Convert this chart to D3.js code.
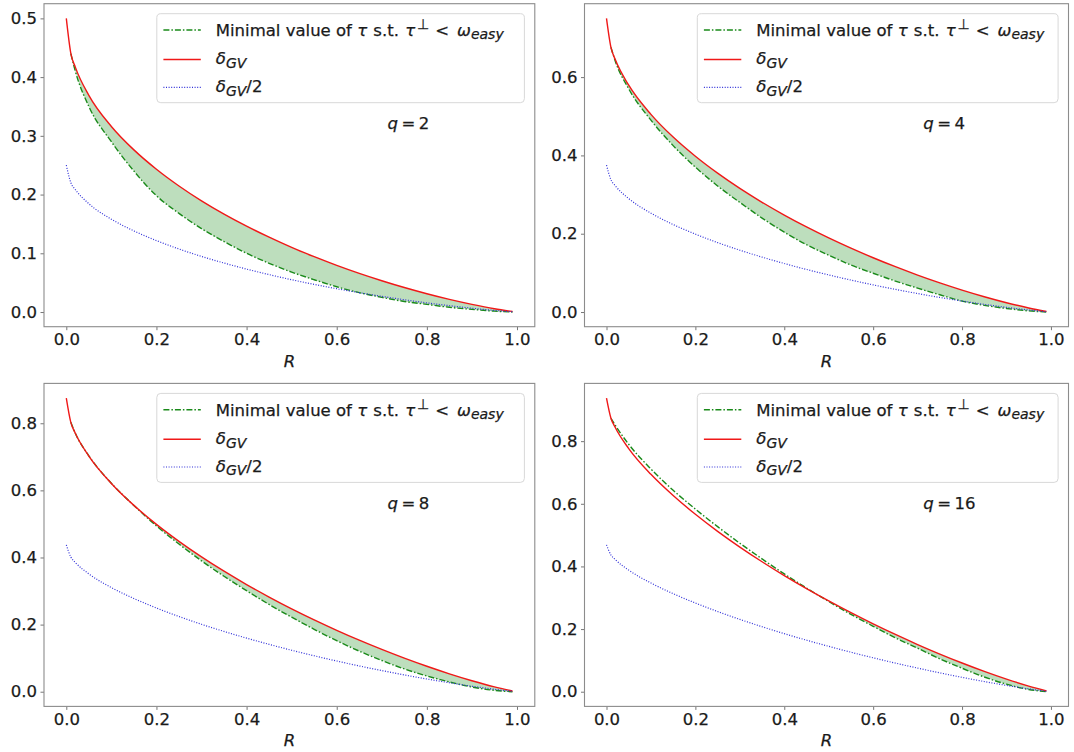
<!DOCTYPE html>
<html>
<head>
<meta charset="utf-8">
<script src="https://cdn.jsdelivr.net/npm/d3@7"></script>
<style>
  body { margin: 0; background: #fff; }
  text { font-family: 'DejaVu Sans', sans-serif; }
</style>
</head>
<body>
<script>
// code rate R (shared x values)
var rates = [0, 0.01, 0.02, 0.05, 0.1, 0.15, 0.2, 0.25, 0.3, 0.35, 0.4, 0.45, 0.5, 0.55, 0.6, 0.65, 0.7, 0.75, 0.8, 0.85, 0.9, 0.95, 0.99]

// delta_GV for q = 2, 4, 8, 16
var gv2 = [0.5, 0.4405, 0.417, 0.3689, 0.316, 0.2761, 0.2431, 0.2146, 0.1893, 0.1667, 0.1462, 0.1274, 0.1100, 0.0942, 0.0794, 0.0658, 0.0533, 0.0417, 0.0311, 0.0215, 0.0130, 0.0056, 0.0009]
var gv4 = [0.75, 0.6758, 0.6441, 0.5793, 0.5049, 0.4468, 0.3978, 0.3546, 0.3157, 0.2803, 0.2477, 0.2174, 0.1893, 0.1631, 0.1386, 0.1157, 0.0943, 0.0744, 0.0560, 0.0391, 0.0238, 0.0104, 0.0016]
var gv8 = [0.875, 0.8028, 0.7701, 0.7023, 0.6207, 0.5553, 0.4987, 0.4481, 0.4018, 0.3591, 0.3193, 0.2821, 0.2470, 0.2141, 0.1830, 0.1536, 0.1260, 0.1000, 0.0758, 0.0533, 0.0328, 0.0145, 0.0023]
var gv16 = [0.9375, 0.8732, 0.8427, 0.7764, 0.6941, 0.6262, 0.5664, 0.5120, 0.4618, 0.4149, 0.3708, 0.3292, 0.2897, 0.2522, 0.2166, 0.1828, 0.1507, 0.1203, 0.0917, 0.0649, 0.0402, 0.0180, 0.0029]

// delta_GV / 2
var half2 = [0.25, 0.2203, 0.2085, 0.1845, 0.158, 0.1381, 0.1216, 0.1073, 0.0947, 0.0834, 0.0731, 0.0637, 0.055, 0.0471, 0.0397, 0.0329, 0.0267, 0.0209, 0.0156, 0.0108, 0.0065, 0.0028, 0.0004]
var half4 = [0.375, 0.3379, 0.3221, 0.2897, 0.2525, 0.2234, 0.1989, 0.1773, 0.1579, 0.1402, 0.1239, 0.1087, 0.0947, 0.0816, 0.0693, 0.0579, 0.0472, 0.0372, 0.0280, 0.0196, 0.0119, 0.0052, 0.0008]
var half8 = [0.4375, 0.4014, 0.3851, 0.3512, 0.3104, 0.2777, 0.2494, 0.2241, 0.2009, 0.1796, 0.1597, 0.1411, 0.1235, 0.1071, 0.0915, 0.0768, 0.0630, 0.0500, 0.0379, 0.0267, 0.0164, 0.0073, 0.0012]
var half16 = [0.4688, 0.4366, 0.4214, 0.3882, 0.3471, 0.3131, 0.2832, 0.2560, 0.2309, 0.2075, 0.1854, 0.1646, 0.1449, 0.1261, 0.1083, 0.0914, 0.0754, 0.0602, 0.0459, 0.0325, 0.0201, 0.0090, 0.0015]

// minimal tau s.t. tau-perp < omega_easy (no value at R = 0)
var tau2 = [null, 0.440, 0.410, 0.350, 0.290, 0.240, 0.198, 0.168, 0.142, 0.120, 0.100, 0.083, 0.068, 0.055, 0.043, 0.033, 0.025, 0.018, 0.013, 0.008, 0.0045, 0.0015, 0.0]
var tau4 = [null, 0.676, 0.640, 0.570, 0.490, 0.425, 0.370, 0.322, 0.280, 0.240, 0.204, 0.172, 0.145, 0.120, 0.099, 0.079, 0.061, 0.044, 0.028, 0.017, 0.009, 0.003, 0.0]
var tau8 = [null, 0.803, 0.770, 0.703, 0.621, 0.555, 0.494, 0.440, 0.390, 0.344, 0.301, 0.260, 0.222, 0.186, 0.152, 0.121, 0.093, 0.068, 0.047, 0.029, 0.014, 0.004, 0.0]
var tau16 = [null, 0.873, 0.850, 0.790, 0.711, 0.643, 0.583, 0.527, 0.474, 0.424, 0.376, 0.331, 0.288, 0.247, 0.209, 0.172, 0.139, 0.105, 0.075, 0.047, 0.024, 0.007, 0.0]

var xTicks = [0, 0.2, 0.4, 0.6, 0.8, 1.0]
var yTicks2 = [0, 0.1, 0.2, 0.3, 0.4, 0.5]
var yTicks4 = [0, 0.2, 0.4, 0.6]
var yTicks8 = [0, 0.2, 0.4, 0.6, 0.8]
var yTicks16 = [0, 0.2, 0.4, 0.6, 0.8]
var qLabels = ['2', '4', '8', '16']

var W = 1074
var H = 752
var ph = 323
var fontSize = 16.5
var subSize = 14
var ink = '#1a1a1a'

var svg = d3.select('body')
            .append('svg')
            .attr('width', W)
            .attr('height', H)

svg.append('rect').attr('width', W).attr('height', H).attr('fill', '#fff')

var panels = [
  {q: qLabels[0], gv: gv2, half: half2, tau: tau2, yticks: yTicks2, left: 44, top: 3.7, pw: 490.8},
  {q: qLabels[1], gv: gv4, half: half4, tau: tau4, yticks: yTicks4, left: 584.5, top: 3.7, pw: 484},
  {q: qLabels[2], gv: gv8, half: half8, tau: tau8, yticks: yTicks8, left: 44, top: 383.4, pw: 490.8},
  {q: qLabels[3], gv: gv16, half: half16, tau: tau16, yticks: yTicks16, left: 584.5, top: 383.4, pw: 484}
]

function drawPanel (p) {
  var pw = p.pw
  var g = svg.append('g')
             .attr('transform', 'translate(' + p.left + ',' + p.top + ')')

  var xMax = d3.max(rates)
  var yMax = d3.max(p.gv)
  var x = d3.scaleLinear().domain([-0.05 * xMax, 1.05 * xMax]).range([0, pw])
  var y = d3.scaleLinear().domain([-0.05 * yMax, 1.05 * yMax]).range([ph, 0])

  var idx = d3.range(rates.length)

  // shaded band where delta_GV is above tau
  var area = d3.area()
               .defined(function (i) { return p.tau[i] != null })
               .x(function (i) { return x(rates[i]) })
               .y0(function (i) { return y(p.tau[i]) })
               .y1(function (i) { return y(Math.max(p.gv[i], p.tau[i])) })
               .curve(d3.curveMonotoneX)

  g.append('path')
    .attr('d', area(idx))
    .attr('fill', 'rgb(0,128,0)')
    .attr('fill-opacity', 0.26)

  var line = function (vals) {
    return d3.line()
             .defined(function (i) { return vals[i] != null })
             .x(function (i) { return x(rates[i]) })
             .y(function (i) { return y(vals[i]) })
             .curve(d3.curveMonotoneX)(idx)
  }

  g.append('path')
    .attr('d', line(p.tau))
    .attr('fill', 'none')
    .attr('stroke', '#1a8a1a')
    .attr('stroke-width', 1.4)
    .attr('stroke-dasharray', '6,2,1.5,2')

  g.append('path')
    .attr('d', line(p.gv))
    .attr('fill', 'none')
    .attr('stroke', '#f01818')
    .attr('stroke-width', 1.4)

  g.append('path')
    .attr('d', line(p.half))
    .attr('fill', 'none')
    .attr('stroke', '#3030d8')
    .attr('stroke-width', 1.2)
    .attr('stroke-dasharray', '1,1.6')

  // axes
  var xAxis = d3.axisBottom(x)
                .tickValues(xTicks)
                .tickSize(3.5)
                .tickPadding(3.5)
                .tickFormat(d3.format('.1f'))
  var yAxis = d3.axisLeft(y)
                .tickValues(p.yticks)
                .tickSize(3.5)
                .tickPadding(3.5)
                .tickFormat(d3.format('.1f'))

  var xa = g.append('g')
    .classed('x axis', true)
    .attr('transform', 'translate(0,' + ph + ')')
    .call(xAxis)
  var ya = g.append('g')
    .classed('y axis', true)
    .call(yAxis)

  ;[xa, ya].forEach(function (a) {
    a.select('.domain').remove()
    a.selectAll('line').attr('stroke', '#666').attr('stroke-width', 0.9)
    a.selectAll('text')
      .attr('fill', ink)
      .attr('stroke', ink)
      .attr('stroke-width', 0.25)
      .style('font-size', fontSize + 'px')
      .style('font-family', "'DejaVu Sans', sans-serif")
  })

  g.append('rect')
    .attr('width', pw)
    .attr('height', ph)
    .attr('fill', 'none')
    .attr('stroke', '#8c8c8c')
    .attr('stroke-width', 1.1)

  // x label
  g.append('text')
    .attr('x', pw / 2)
    .attr('y', ph + 40)
    .attr('text-anchor', 'middle')
    .attr('font-style', 'italic')
    .attr('fill', ink)
    .attr('stroke', ink)
    .attr('stroke-width', 0.25)
    .style('font-size', fontSize + 'px')
    .text('R')

  // q annotation
  var qt = g.append('text')
    .attr('x', 0.7 * pw)
    .attr('y', 125.5)
    .attr('fill', ink)
    .attr('stroke', ink)
    .attr('stroke-width', 0.25)
    .style('font-size', fontSize + 'px')
  qt.append('tspan').attr('font-style', 'italic').text('q')
  qt.append('tspan').attr('dx', 3.5).text('=')
  qt.append('tspan').attr('dx', 3.5).text(p.q)

  // legend
  var lx = 112.8
  var ly = 10
  var lw = pw - 10.4 - lx
  var lg = g.append('g').attr('transform', 'translate(' + lx + ',' + ly + ')')
  lg.append('rect')
    .attr('width', lw)
    .attr('height', 89)
    .attr('rx', 4)
    .attr('fill', '#fff')
    .attr('fill-opacity', 0.8)
    .attr('stroke', '#d8d8d8')
    .attr('stroke-width', 1)

  var rows = [
    {y: 16.3, stroke: '#1a8a1a', dash: '6,2,1.5,2', w: 1.4},
    {y: 45.8, stroke: '#f01818', dash: null, w: 1.4},
    {y: 73.6, stroke: '#3030d8', dash: '1,1.6', w: 1.2}
  ]
  rows.forEach(function (r) {
    lg.append('line')
      .attr('x1', 6.6).attr('x2', 44)
      .attr('y1', r.y).attr('y2', r.y)
      .attr('stroke', r.stroke)
      .attr('stroke-width', r.w)
      .attr('stroke-dasharray', r.dash)
  })

  var tx = 59
  function legendText (yy) {
    return lg.append('text')
      .attr('x', tx).attr('y', yy)
      .attr('fill', ink)
      .attr('stroke', ink)
      .attr('stroke-width', 0.25)
      .style('font-size', fontSize + 'px')
  }

  var t1 = legendText(rows[0].y + 6)
  t1.append('tspan').text('Minimal value of ')
  t1.append('tspan').attr('font-style', 'italic').text('τ')
  t1.append('tspan').attr('dx', 1).text(' s.t. ')
  t1.append('tspan').attr('dx', 1).attr('font-style', 'italic').text('τ')
  t1.append('tspan').attr('dx', 2).attr('dy', -7).style('font-size', subSize + 'px').text('⊥')
  t1.append('tspan').attr('dx', 6).attr('dy', 7).text('<')
  t1.append('tspan').attr('dx', 8).attr('font-style', 'italic').text('ω')
  t1.append('tspan').attr('dy', 3.5).attr('font-style', 'italic').style('font-size', subSize + 'px').text('easy')

  var t2 = legendText(rows[1].y + 5)
  t2.append('tspan').attr('font-style', 'italic').text('δ')
  t2.append('tspan').attr('dy', 3.5).attr('font-style', 'italic').style('font-size', subSize + 'px').text('GV')

  var t3 = legendText(rows[2].y + 5)
  t3.append('tspan').attr('font-style', 'italic').text('δ')
  t3.append('tspan').attr('dy', 3.5).attr('font-style', 'italic').style('font-size', subSize + 'px').text('GV')
  t3.append('tspan').attr('dy', -3.5).text('/2')
}

panels.forEach(drawPanel)
</script>
</body>
</html>
